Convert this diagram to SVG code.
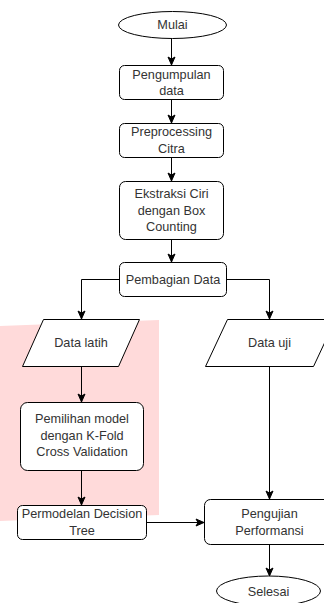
<svg xmlns="http://www.w3.org/2000/svg" width="324" height="603" viewBox="0 0 324 603">
<style>
.shape{fill:#fff;stroke:#000;stroke-width:1}
.t{font-family:"Liberation Sans",Arial,sans-serif;font-size:12.7px;fill:#333;text-anchor:middle;dominant-baseline:central}
.c{fill:none;stroke:#000;stroke-width:1}
</style>
<defs>
<marker id="ah" markerUnits="userSpaceOnUse" markerWidth="10" markerHeight="10" viewBox="0 0 10 10" refX="9" refY="5" orient="auto">
<path d="M1,1.5 L9,5 L1,8.5 L3,5 z" fill="#000" stroke="#000" stroke-width="1"/>
</marker>
</defs>
<polygon points="0,326 159,320 159,515 0,521" fill="#FFDADA"/>
<g id="connectors">
<path class="c" d="M171.5,38.5 V65" marker-end="url(#ah)"/>
<path class="c" d="M171.5,99 V123" marker-end="url(#ah)"/>
<path class="c" d="M171.5,157 V181" marker-end="url(#ah)"/>
<path class="c" d="M171.5,240 V262" marker-end="url(#ah)"/>
<path class="c" d="M119,279.5 H81.5 V319" marker-end="url(#ah)"/>
<path class="c" d="M227,279.5 H269.5 V319" marker-end="url(#ah)"/>
<path class="c" d="M81.5,366 V402" marker-end="url(#ah)"/>
<path class="c" d="M81.5,471 V505" marker-end="url(#ah)"/>
<path class="c" d="M269.5,366 V499" marker-end="url(#ah)"/>
<path class="c" d="M146,522.5 H204" marker-end="url(#ah)"/>
<path class="c" d="M269.5,545 V576" marker-end="url(#ah)"/>
</g>
<g id="mulai">
<ellipse class="shape" cx="172.5" cy="25" rx="54" ry="13.5"/>
<text class="t" x="172.5" y="25">Mulai</text>
</g>
<g id="pengumpulan">
<rect class="shape" x="119.5" y="65.5" width="104" height="34" rx="5"/>
<text class="t" x="171.5" y="74.5">Pengumpulan</text>
<text class="t" x="171.5" y="91">data</text>
</g>
<g id="preprocessing">
<rect class="shape" x="119.5" y="123.5" width="104" height="34" rx="5"/>
<text class="t" x="171.5" y="132">Preprocessing</text>
<text class="t" x="171.5" y="148.5">Citra</text>
</g>
<g id="ekstraksi">
<rect class="shape" x="119.5" y="181.5" width="104" height="58" rx="6"/>
<text class="t" x="171.5" y="194">Ekstraksi Ciri</text>
<text class="t" x="171.5" y="210.5">dengan Box</text>
<text class="t" x="171.5" y="227">Counting</text>
</g>
<g id="pembagian">
<rect class="shape" x="119.5" y="262.5" width="107" height="34" rx="5"/>
<text class="t" x="173" y="279.5">Pembagian Data</text>
</g>
<g id="data-latih">
<polygon class="shape" points="43.5,319.5 139.5,319.5 118.5,366.5 22.5,366.5"/>
<text class="t" x="81" y="343">Data latih</text>
</g>
<g id="data-uji">
<polygon class="shape" points="227.5,319.5 335.5,319.5 313.5,366.5 205.5,366.5"/>
<text class="t" x="269.5" y="343">Data uji</text>
</g>
<g id="pemilihan">
<rect class="shape" x="20.5" y="402.5" width="123" height="68" rx="7"/>
<text class="t" x="82" y="419">Pemilihan model</text>
<text class="t" x="82" y="435.5">dengan K-Fold</text>
<text class="t" x="82" y="452">Cross Validation</text>
</g>
<g id="permodelan">
<rect class="shape" x="17.5" y="505.5" width="129" height="34" rx="5"/>
<text class="t" x="82" y="514">Permodelan Decision</text>
<text class="t" x="82" y="530.5">Tree</text>
</g>
<g id="pengujian">
<rect class="shape" x="204.5" y="499.5" width="130" height="45" rx="6"/>
<text class="t" x="269.5" y="514">Pengujian</text>
<text class="t" x="269.5" y="530.5">Performansi</text>
</g>
<g id="selesai">
<ellipse class="shape" cx="268.5" cy="591" rx="52" ry="15"/>
<text class="t" x="268.5" y="592">Selesai</text>
</g>
</svg>
